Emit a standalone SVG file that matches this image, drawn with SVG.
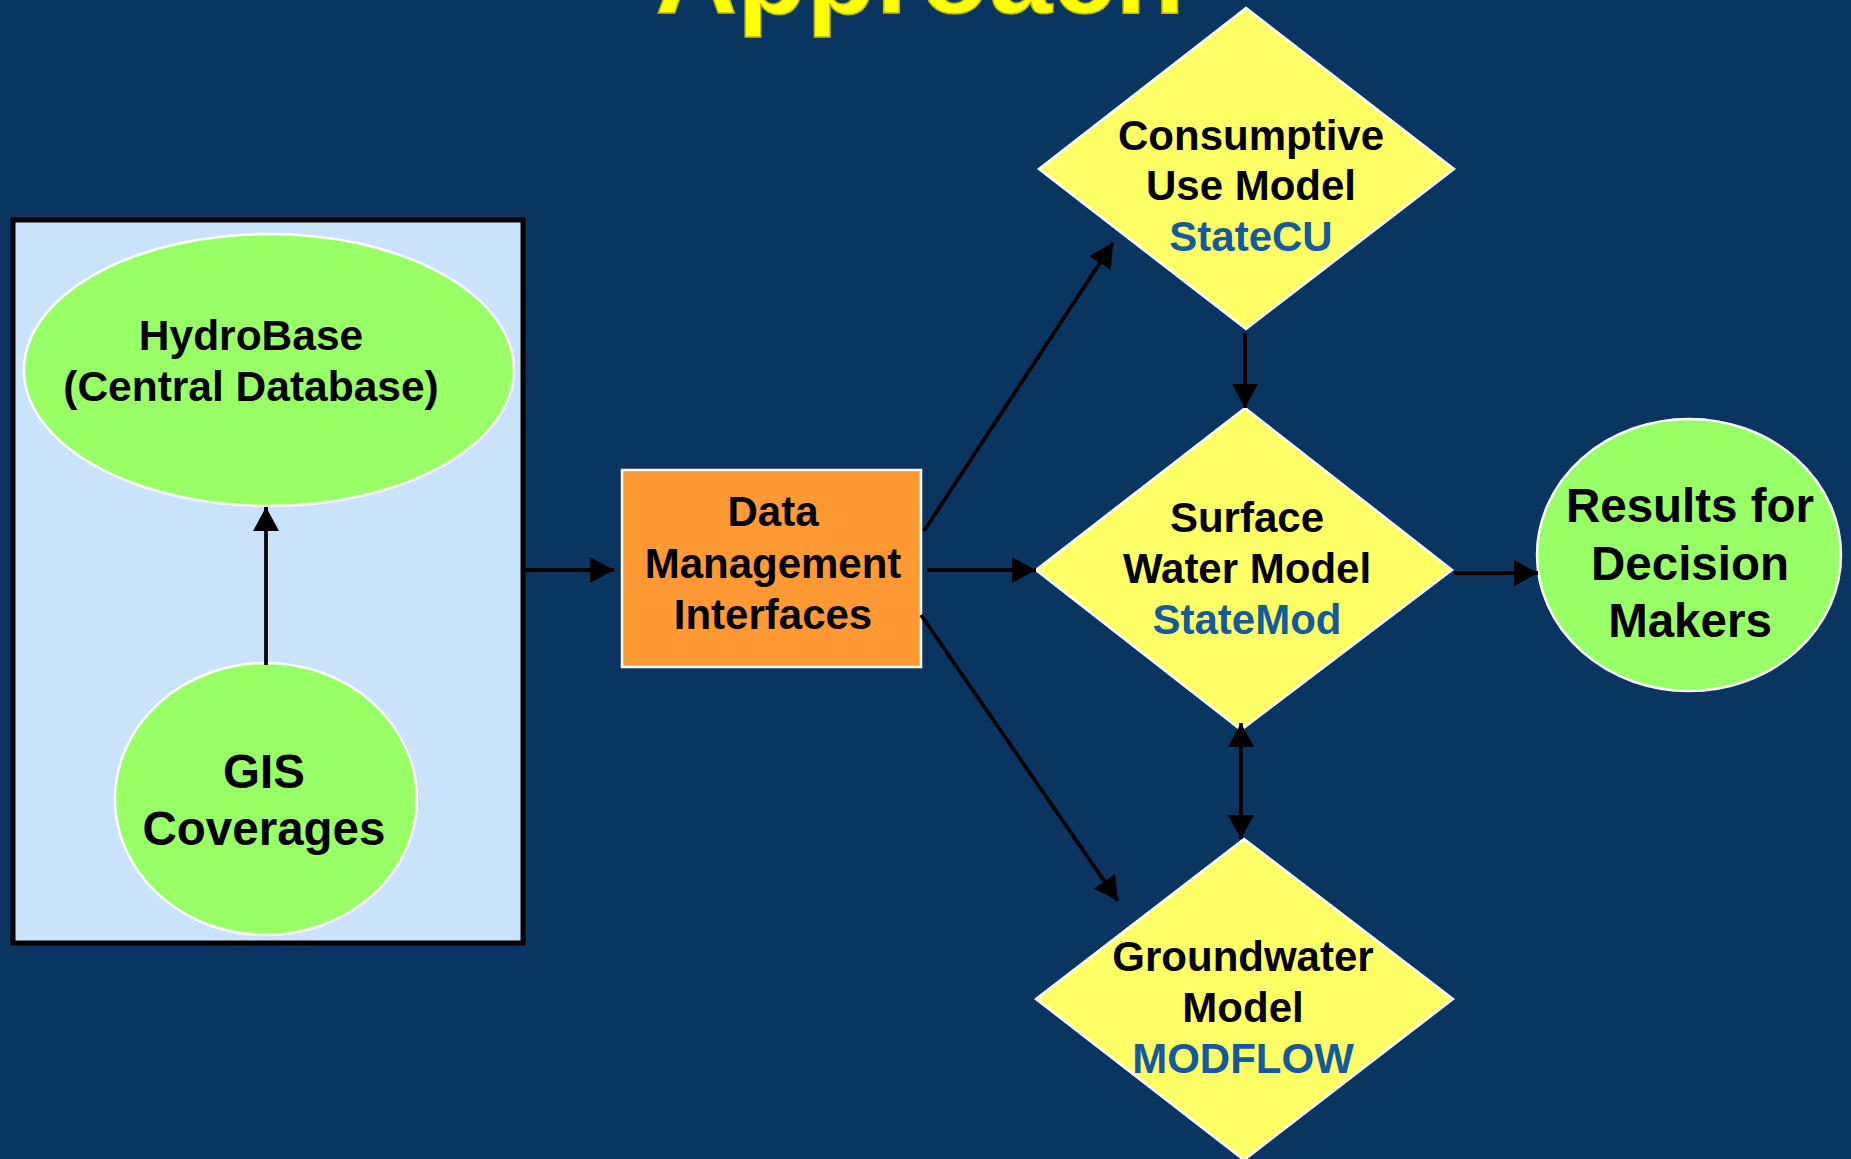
<svg xmlns="http://www.w3.org/2000/svg" width="1851" height="1159" viewBox="0 0 1851 1159">
<defs>
<style>
.t{font-family:"Liberation Sans",Arial,sans-serif;font-weight:bold;text-anchor:middle;fill:#000}
.b{fill:#155a9c}
.ell{fill:#99ff66;stroke:#ffffff;stroke-width:2.5}
.dia{fill:#ffff66;stroke:#ffffff;stroke-width:2.5}
.c{stroke:#000;stroke-width:3.8;fill:none}
</style>
<marker id="ah" viewBox="0 0 24 26" refX="24" refY="13" markerWidth="24" markerHeight="26" markerUnits="userSpaceOnUse" orient="auto-start-reverse">
<path d="M0,0 L24,13 L0,26 Z" fill="#000"/>
</marker>
</defs>
<rect x="0" y="0" width="1851" height="1159" fill="#0a3561"/>
<text x="920" y="13" font-family="Liberation Sans,Arial,sans-serif" font-weight="bold" font-size="114" fill="#ffff00" stroke="#b8b800" stroke-width="1.5" text-anchor="middle" textLength="529" lengthAdjust="spacingAndGlyphs">Approach</text>

<g id="group-box">
<rect x="13" y="220" width="510" height="723" fill="#c9e3fb" stroke="#000" stroke-width="5"/>
</g>
<g id="hydrobase">
<ellipse class="ell" cx="269" cy="370" rx="245" ry="136"/>
<text class="t" x="251" y="350" font-size="42.5">HydroBase</text>
<text class="t" x="251" y="401" font-size="42.5">(Central Database)</text>
</g>
<g id="gis">
<ellipse class="ell" cx="266" cy="799" rx="151" ry="136"/>
<text class="t" x="264" y="788" font-size="47.5">GIS</text>
<text class="t" x="264" y="845" font-size="47.5">Coverages</text>
</g>
<g id="dmi">
<rect x="622" y="470" width="299" height="197" fill="#ff9933" stroke="#fff" stroke-width="2.5"/>
<text class="t" x="773" y="526" font-size="42">Data</text>
<text class="t" x="773" y="578" font-size="42">Management</text>
<text class="t" x="773" y="629" font-size="42">Interfaces</text>
</g>
<g id="statecu">
<polygon class="dia" points="1246,8 1454,169 1246,329 1039,169"/>
<text class="t" x="1251" y="150" font-size="42">Consumptive</text>
<text class="t" x="1251" y="200" font-size="42">Use Model</text>
<text class="t b" x="1251" y="251" font-size="42">StateCU</text>
</g>
<g id="statemod">
<polygon class="dia" points="1245,408 1452,570 1241,730 1036,570"/>
<text class="t" x="1247" y="532" font-size="42">Surface</text>
<text class="t" x="1247" y="583" font-size="42">Water Model</text>
<text class="t b" x="1247" y="634" font-size="42">StateMod</text>
</g>
<g id="modflow">
<polygon class="dia" points="1244,839 1453,999 1244,1160 1036,999"/>
<text class="t" x="1243" y="971" font-size="42">Groundwater</text>
<text class="t" x="1243" y="1022" font-size="42">Model</text>
<text class="t b" x="1243" y="1073" font-size="42">MODFLOW</text>
</g>
<g id="results">
<ellipse class="ell" cx="1689" cy="555" rx="152" ry="136"/>
<text class="t" x="1690" y="522" font-size="47.5">Results for</text>
<text class="t" x="1690" y="580" font-size="47.5">Decision</text>
<text class="t" x="1690" y="637" font-size="47.5">Makers</text>
</g>

<g id="connectors">
<line class="c" x1="266" y1="665" x2="266" y2="507" marker-end="url(#ah)"/>
<line class="c" x1="524" y1="570" x2="614" y2="570" marker-end="url(#ah)"/>
<line class="c" x1="924" y1="531" x2="1113" y2="243" marker-end="url(#ah)"/>
<line class="c" x1="927" y1="570" x2="1036" y2="570" marker-end="url(#ah)"/>
<line class="c" x1="921" y1="615" x2="1118" y2="901" marker-end="url(#ah)"/>
<line class="c" x1="1245" y1="333" x2="1245" y2="408" marker-end="url(#ah)"/>
<line class="c" x1="1241" y1="723" x2="1241" y2="839" marker-start="url(#ah)" marker-end="url(#ah)"/>
<line class="c" x1="1454" y1="573" x2="1538" y2="573" marker-end="url(#ah)"/>
</g>
</svg>
